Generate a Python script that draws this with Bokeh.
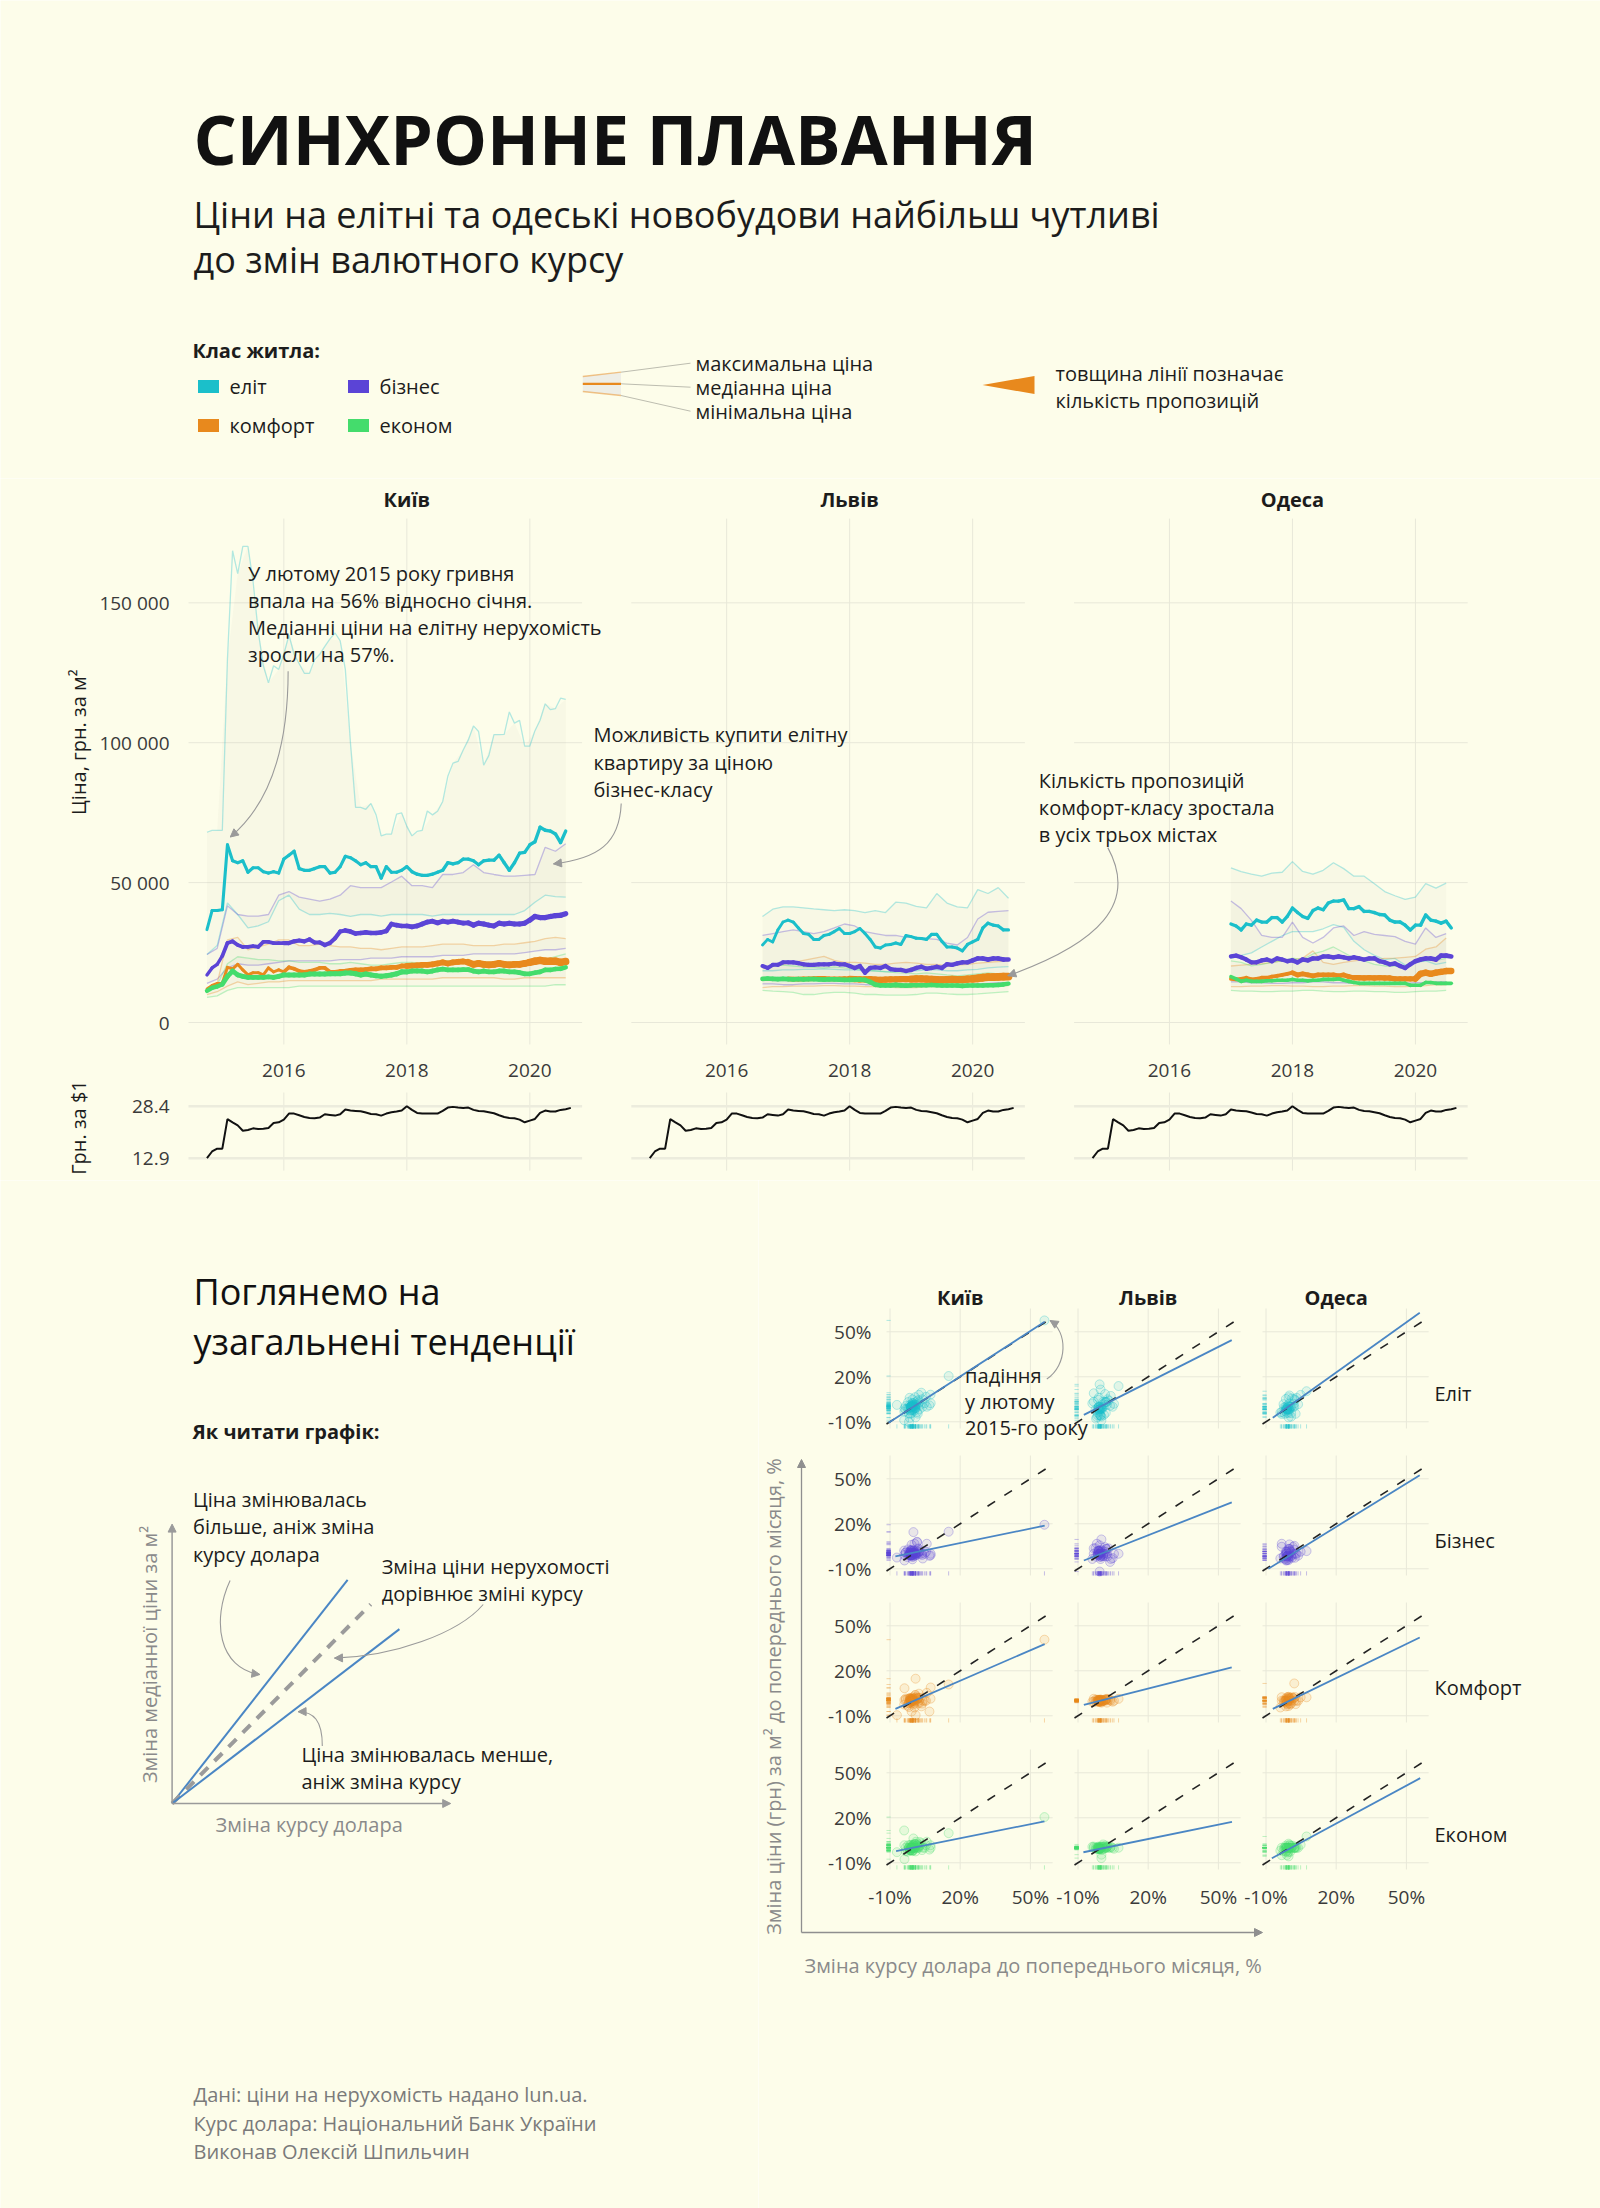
import math
from bokeh.plotting import figure
from bokeh.models import Range1d, LinearAxis, FixedTicker, CustomJSTickFormatter, Arrow, NormalHead
from bokeh.layouts import column, row
from bokeh.embed import file_html
from bokeh.resources import INLINE
from bokeh.core.properties import value

# ======================= DATA =======================
# UAH per USD, monthly, Oct 2014 .. Sep 2020
fx_start = (2014, 10)
fx_rate = [12.95, 14.9, 15.75,
           15.75, 24.57, 23.6, 22.7, 21.1, 21.3, 21.8, 21.6, 21.7, 21.9, 23.4, 23.6,
           24.4, 26.2, 26.2, 25.7, 25.2, 24.9, 24.8, 25.0, 26.0, 25.8, 25.6, 26.0,
           27.4, 27.1, 27.0, 26.9, 26.5, 26.1, 26.0, 25.6, 26.2, 26.6, 26.8, 27.1,
           28.4, 27.3, 26.4, 26.2, 26.2, 26.2, 26.2, 27.0, 28.0, 28.2, 28.0, 27.9,
           28.0, 27.3, 27.0, 26.9, 26.6, 26.3, 25.7, 25.2, 24.9, 24.8, 24.4, 23.6,
           24.1, 24.6, 26.4, 27.1, 26.8, 26.8, 27.3, 27.5, 27.9]

# prices, thousand UAH per m2.  *_med monthly, *_max / *_min every second month
# ---- Kyiv, Oct 2014 .. Aug 2020
kyiv_elite_med = [33.2, 40.0, 40.0, 40.3, 63.5, 57.8, 57.1, 57.8, 53.7, 55.3,
                  55.3, 53.9, 53.4, 53.9, 53.4, 58.4, 59.8, 61.2, 55.0, 54.4,
                  54.4, 55.0, 55.7, 55.7, 53.4, 53.7, 55.7, 59.4, 58.9, 57.8,
                  56.4, 57.1, 55.7, 55.7, 51.6, 55.7, 53.7, 53.7, 54.4, 55.7,
                  53.9, 53.0, 52.6, 52.6, 53.0, 53.7, 54.4, 57.1, 56.7, 57.1,
                  58.4, 58.4, 57.8, 56.4, 57.8, 58.0, 58.0, 59.8, 57.1, 54.4,
                  57.1, 60.5, 60.8, 63.5, 64.6, 69.8, 68.7, 68.4, 67.4, 64.3,
                  68.4]
kyiv_elite_max = [68.0, 68.7, 68.7, 68.7, 130.0, 168.6, 160.4, 170.2, 170.2, 157.6,
                  139.8, 127.5, 121.4, 127.5, 126.2, 131.6, 138.5, 131.6, 128.2, 124.8,
                  124.8, 129.6, 131.6, 134.4, 137.1, 139.2, 136.4, 126.2, 100.0, 76.9,
                  76.9, 76.2, 78.3, 74.2, 66.7, 67.3, 67.3, 74.5, 74.9, 70.1,
                  66.7, 68.3, 68.7, 75.6, 74.2, 75.5, 79.0, 88.0, 92.7, 93.3,
                  97.4, 101.0, 106.0, 104.0, 92.0, 95.4, 102.9, 102.9, 103.0, 111.0,
                  107.0, 108.0, 98.8, 98.8, 104.3, 108.0, 113.9, 111.8, 112.2, 115.9,
                  115.5]
kyiv_elite_min = [24.3, 27.5, 42.7, 38.6, 33.8, 34.5, 36.0, 43.5, 45.5, 40.5,
                  38.6, 38.6, 39.0, 38.6, 37.9, 38.6, 38.6, 38.0, 38.6, 38.6,
                  38.6, 38.6, 38.0, 38.6, 38.6, 38.6, 38.6, 38.6, 38.6, 38.6,
                  38.6, 40.0, 43.0, 45.5, 45.0, 44.8]
kyiv_business_med = [17.0, 19.5, 20.8, 23.8, 28.4, 29.0, 27.7, 27.0, 27.0, 27.3,
                     27.0, 28.8, 28.8, 28.4, 28.4, 28.4, 28.4, 29.0, 29.3, 29.0,
                     29.7, 28.6, 28.6, 27.7, 28.4, 30.1, 32.5, 32.9, 32.5, 31.8,
                     32.0, 32.2, 32.0, 32.0, 32.2, 32.7, 35.2, 34.8, 34.5, 34.5,
                     34.2, 34.5, 35.2, 35.9, 36.2, 35.6, 36.2, 35.9, 36.2, 35.9,
                     35.5, 35.6, 34.8, 35.5, 35.2, 34.8, 34.5, 35.5, 35.2, 35.5,
                     35.2, 35.2, 35.5, 36.6, 37.9, 37.5, 37.5, 37.9, 38.2, 38.3,
                     38.9]
kyiv_business_max = [24.3, 26.5, 41.7, 38.6, 38.0, 38.0, 38.6, 45.5, 46.8, 44.8,
                     44.1, 43.4, 44.1, 45.5, 48.9, 48.2, 48.2, 48.2, 50.2, 52.3,
                     48.9, 48.9, 48.2, 52.9, 52.9, 53.6, 56.4, 53.6, 52.9, 52.3,
                     52.3, 52.6, 52.9, 62.6, 61.2, 63.9]
kyiv_business_min = [14.0, 15.5, 19.5, 21.0, 20.5, 20.5, 21.0, 21.5, 22.0, 22.0,
                     22.0, 22.0, 22.0, 22.5, 22.5, 22.5, 23.0, 23.0, 23.0, 23.5,
                     23.5, 23.5, 23.5, 24.0, 24.0, 24.0, 24.5, 24.5, 24.5, 24.5,
                     24.5, 25.0, 25.5, 26.0, 26.0, 26.5]
kyiv_comfort_med = [12.0, 13.3, 14.0, 14.0, 19.7, 19.2, 20.8, 18.8, 17.0, 17.8,
                    17.8, 17.0, 19.5, 18.1, 18.8, 18.1, 19.7, 19.2, 18.4, 18.1,
                    18.4, 18.8, 19.5, 19.5, 18.1, 18.1, 18.4, 18.4, 18.6, 18.8,
                    18.8, 18.9, 19.2, 19.2, 19.5, 19.5, 19.7, 19.7, 20.2, 20.2,
                    20.3, 20.4, 20.6, 20.6, 20.8, 21.1, 21.5, 21.1, 21.5, 21.7,
                    21.8, 21.5, 20.8, 21.1, 20.8, 20.6, 20.8, 21.1, 20.8, 20.6,
                    20.8, 20.8, 21.1, 21.5, 21.9, 22.2, 21.9, 21.9, 21.9, 21.5,
                    21.8]
kyiv_comfort_max = [12.5, 14.0, 29.5, 30.4, 26.0, 27.0, 28.0, 29.5, 29.5, 27.5,
                    27.5, 28.0, 27.5, 27.0, 27.0, 26.5, 26.5, 26.0, 26.5, 27.0,
                    27.0, 27.0, 27.5, 28.0, 28.0, 28.0, 27.5, 27.5, 27.5, 28.0,
                    28.0, 28.5, 29.0, 30.0, 30.4, 30.0]
kyiv_comfort_min = [10.0, 11.0, 13.0, 14.5, 13.5, 14.0, 14.5, 14.5, 15.0, 15.0,
                    15.0, 15.0, 15.0, 15.0, 15.0, 15.0, 15.0, 15.5, 15.5, 15.5,
                    15.5, 15.5, 15.5, 16.0, 16.0, 16.0, 16.0, 16.0, 16.0, 15.5,
                    15.5, 16.0, 16.0, 16.0, 16.0, 16.0]
kyiv_econom_med = [11.3, 12.4, 12.9, 13.7, 16.5, 18.4, 17.0, 16.5, 16.1, 16.1,
                   16.1, 16.1, 16.3, 16.1, 16.5, 17.0, 17.0, 17.0, 17.0, 17.0,
                   17.3, 17.3, 17.3, 17.3, 17.4, 17.4, 17.4, 17.7, 17.7, 17.4,
                   17.0, 17.3, 17.0, 16.7, 16.5, 16.7, 17.0, 17.4, 18.1, 18.1,
                   18.4, 18.4, 18.4, 18.1, 18.4, 18.8, 19.1, 18.8, 18.8, 18.8,
                   18.9, 18.9, 18.4, 18.1, 18.4, 18.1, 18.1, 18.4, 18.4, 18.1,
                   18.1, 17.8, 17.4, 17.4, 17.8, 18.1, 18.8, 18.8, 19.1, 19.2,
                   19.7]
kyiv_econom_max = [12.0, 13.5, 21.0, 23.5, 23.0, 22.5, 22.5, 22.0, 22.0, 21.5,
                   21.5, 21.5, 21.0, 21.0, 21.5, 21.0, 20.5, 20.5, 21.0, 21.5,
                   21.5, 21.0, 21.5, 22.0, 22.0, 22.0, 21.5, 21.5, 21.5, 21.5,
                   21.0, 21.5, 22.0, 22.5, 23.5, 24.5]
kyiv_econom_min = [9.0, 9.5, 11.5, 12.5, 12.5, 12.5, 12.5, 12.5, 12.5, 13.0,
                   13.0, 13.0, 13.0, 13.0, 13.0, 13.0, 13.0, 13.0, 13.0, 13.0,
                   13.0, 13.0, 13.0, 13.0, 13.0, 13.0, 13.0, 13.0, 13.0, 13.0,
                   13.0, 13.0, 13.0, 13.0, 13.5, 13.5]

# ---- Lviv, Aug 2016 .. Aug 2020
lviv_elite_med = [27.7, 29.7, 28.8, 33.1, 35.9, 36.6, 35.9, 33.8, 31.8, 31.5,
                  29.7, 29.7, 31.1, 31.5, 32.5, 33.6, 31.8, 31.8, 32.5, 33.6,
                  31.8, 29.7, 27.0, 26.6, 27.7, 27.9, 28.4, 27.9, 31.1, 30.7,
                  30.1, 30.0, 29.7, 31.5, 31.5, 29.0, 27.0, 27.0, 26.6, 25.6,
                  27.9, 28.8, 29.7, 33.8, 35.5, 34.8, 34.5, 33.1, 33.1]
lviv_elite_max = [37.9, 40.5, 41.3, 41.3, 41.0, 40.6, 40.3, 40.0, 40.3, 40.0,
                  39.3, 40.0, 39.3, 43.0, 42.7, 41.5, 41.0, 46.1, 42.7, 41.3,
                  41.0, 47.5, 46.1, 48.2, 44.4]
lviv_elite_min = [18.5, 18.5, 18.8, 18.8, 19.0, 19.0, 19.2, 19.0, 18.8, 18.8,
                  18.5, 18.5, 18.2, 18.2, 18.5, 18.5, 18.8, 18.8, 18.5, 18.5,
                  18.8, 19.0, 19.5, 19.8, 20.0]
lviv_business_med = [20.2, 19.5, 20.6, 20.6, 21.5, 21.5, 21.5, 21.2, 20.8, 20.6,
                     20.6, 20.8, 20.8, 20.8, 21.1, 20.8, 20.8, 20.2, 19.5, 20.2,
                     17.8, 19.5, 19.7, 19.5, 20.2, 19.1, 18.8, 18.8, 18.4, 18.8,
                     19.5, 19.9, 19.2, 19.5, 19.9, 19.5, 20.8, 20.6, 21.1, 21.5,
                     21.5, 22.2, 22.9, 22.9, 22.5, 22.9, 22.9, 22.5, 22.5]
lviv_business_max = [31.1, 31.8, 32.5, 33.1, 32.5, 31.8, 32.5, 33.8, 35.2, 34.5,
                     32.5, 31.8, 31.1, 31.1, 30.4, 30.4, 30.0, 29.7, 28.4, 27.7,
                     30.4, 37.0, 39.4, 39.7, 40.0]
lviv_business_min = [13.8, 13.8, 13.5, 13.5, 13.8, 13.8, 14.0, 14.0, 13.8, 13.8,
                     13.5, 13.5, 13.5, 13.2, 13.2, 13.5, 13.5, 13.5, 13.2, 13.2,
                     13.5, 13.8, 14.0, 14.2, 14.2]
lviv_comfort_med = [15.4, 15.4, 15.5, 15.5, 15.6, 15.6, 15.5, 15.5, 15.6, 15.6,
                    15.7, 15.8, 15.8, 15.6, 15.6, 15.6, 15.7, 15.6, 15.5, 15.4,
                    15.4, 15.5, 15.3, 15.2, 15.3, 15.4, 15.4, 15.5, 15.5, 15.5,
                    15.6, 15.6, 15.5, 15.4, 15.3, 15.2, 15.3, 15.4, 15.3, 15.3,
                    15.5, 15.6, 15.8, 16.0, 16.2, 16.2, 16.3, 16.4, 16.4]
lviv_comfort_max = [19.5, 20.2, 20.8, 21.5, 22.2, 22.9, 23.6, 22.2, 21.5, 21.5,
                    21.2, 20.8, 20.8, 21.2, 21.5, 21.2, 20.8, 20.8, 20.2, 20.5,
                    20.8, 21.2, 21.5, 21.8, 22.0]
lviv_comfort_min = [12.5, 12.8, 12.8, 13.0, 13.0, 13.0, 13.2, 13.2, 13.0, 13.0,
                    12.8, 12.8, 12.8, 12.5, 12.5, 12.5, 12.8, 12.8, 12.8, 13.0,
                    13.0, 13.0, 13.2, 13.2, 13.2]
lviv_econom_med = [15.6, 15.7, 15.6, 15.5, 15.6, 15.5, 15.4, 15.5, 15.4, 15.5,
                   15.5, 15.4, 15.3, 15.4, 15.4, 15.3, 15.2, 15.2, 15.3, 15.3,
                   15.2, 14.5, 13.5, 13.3, 13.3, 13.3, 13.4, 13.3, 13.2, 13.3,
                   13.3, 13.3, 13.3, 13.4, 13.3, 13.2, 13.2, 13.2, 13.2, 13.1,
                   13.2, 13.2, 13.2, 13.2, 13.3, 13.3, 13.4, 13.6, 13.9]
lviv_econom_max = [19.7, 20.2, 20.5, 20.2, 19.9, 19.7, 19.5, 19.9, 19.5, 19.2,
                   18.8, 18.4, 18.1, 17.8, 17.7, 17.4, 17.7, 17.4, 17.0, 16.7,
                   17.0, 17.4, 17.7, 17.4, 17.0]
lviv_econom_min = [11.5, 11.2, 11.0, 10.8, 10.0, 10.0, 10.5, 10.8, 10.8, 10.5,
                   10.0, 10.0, 9.8, 9.8, 9.8, 10.0, 10.5, 10.5, 10.2, 10.0,
                   10.0, 10.2, 10.5, 10.8, 11.0]

# ---- Odesa, Jan 2017 .. Aug 2020
odesa_elite_med = [35.2, 34.5, 33.1, 35.2, 34.8, 36.6, 35.9, 35.9, 37.5, 37.5,
                   35.9, 37.9, 40.9, 39.3, 37.9, 37.2, 40.0, 40.9, 40.3, 42.7,
                   43.4, 43.4, 43.8, 40.7, 40.7, 41.4, 39.7, 39.7, 39.3, 38.6,
                   38.4, 36.6, 35.9, 35.9, 34.8, 33.1, 34.8, 34.8, 38.4, 36.6,
                   36.2, 35.5, 36.2, 33.8]
odesa_elite_max = [55.3, 53.9, 53.0, 52.3, 53.4, 53.7, 57.5, 54.0, 53.0, 54.4,
                   57.1, 55.0, 52.3, 52.3, 49.6, 46.8, 45.3, 44.0, 44.8, 49.6,
                   48.0, 49.8]
odesa_elite_min = [22.9, 24.0, 24.9, 27.0, 29.0, 31.0, 32.5, 32.5, 32.5, 33.5,
                   35.0, 34.0, 29.0, 26.0, 24.0, 22.5, 22.9, 20.5, 21.5, 22.0,
                   20.8, 21.5]
odesa_business_med = [23.6, 23.9, 23.3, 22.5, 21.5, 21.5, 22.2, 22.5, 21.9, 22.9,
                      22.5, 21.9, 22.2, 21.5, 22.5, 22.2, 22.9, 22.9, 23.6, 23.6,
                      23.3, 23.6, 23.3, 22.9, 23.3, 22.9, 22.5, 22.9, 22.9, 21.9,
                      21.5, 20.8, 21.1, 20.2, 19.5, 20.8, 21.9, 22.5, 22.9, 22.9,
                      22.5, 23.9, 23.9, 23.6]
odesa_business_max = [43.4, 40.7, 36.5, 31.1, 30.4, 30.4, 35.9, 30.4, 28.4, 30.4,
                      33.8, 34.5, 31.1, 32.5, 31.5, 31.1, 30.7, 29.0, 28.0, 33.8,
                      30.4, 31.8]
odesa_business_min = [14.5, 14.5, 14.2, 14.2, 14.0, 14.0, 14.2, 14.2, 14.5, 14.5,
                      14.2, 14.2, 14.0, 14.0, 13.8, 13.8, 14.0, 14.0, 14.2, 14.2,
                      14.5, 14.5]
odesa_comfort_med = [15.6, 15.4, 15.6, 16.0, 15.4, 15.6, 16.0, 16.0, 16.4, 16.7,
                     17.0, 17.4, 17.8, 17.0, 17.4, 17.0, 16.7, 17.0, 17.0, 17.0,
                     17.0, 16.7, 17.0, 16.4, 16.0, 16.0, 15.9, 16.0, 15.9, 16.0,
                     15.9, 15.9, 15.6, 15.6, 15.6, 15.6, 15.6, 17.4, 17.8, 17.4,
                     17.8, 18.1, 18.4, 18.4]
odesa_comfort_max = [20.2, 20.5, 20.8, 21.0, 21.5, 22.0, 22.5, 23.0, 25.6, 21.5,
                     20.8, 21.5, 22.0, 22.5, 22.5, 22.9, 23.0, 23.3, 23.6, 26.2,
                     27.0, 30.2]
odesa_comfort_min = [12.8, 12.8, 13.0, 13.0, 13.2, 13.2, 13.0, 13.0, 12.8, 12.8,
                     13.0, 13.0, 13.2, 13.2, 13.0, 13.0, 12.8, 12.8, 13.0, 13.2,
                     13.5, 13.5]
odesa_econom_med = [16.4, 15.6, 14.7, 15.1, 14.7, 14.7, 14.7, 14.9, 14.9, 15.1,
                    15.1, 15.1, 15.4, 15.1, 15.1, 14.9, 15.1, 15.1, 15.4, 15.4,
                    15.4, 15.6, 15.1, 14.7, 14.3, 14.0, 14.0, 14.0, 14.0, 14.0,
                    14.0, 14.0, 14.0, 14.0, 14.0, 13.3, 13.3, 13.3, 14.3, 14.3,
                    14.0, 14.0, 14.0, 14.0]
odesa_econom_max = [22.0, 21.5, 20.2, 20.8, 21.5, 22.0, 23.0, 22.5, 24.5, 25.5,
                    27.0, 25.0, 23.0, 22.0, 20.8, 20.2, 20.2, 20.2, 21.5, 22.2,
                    22.2, 22.9]
odesa_econom_min = [11.5, 11.2, 11.2, 11.0, 11.0, 11.2, 11.2, 11.5, 11.5, 11.2,
                    11.0, 11.0, 11.2, 11.2, 11.0, 11.0, 10.8, 10.8, 11.0, 11.2,
                    11.2, 11.5]

# number of offers per year (drives median line thickness)
kyiv_offers = [[1200, 1300, 1400, 1400, 1500, 1500, 1600],
               [1500, 2000, 2400, 2800, 3000, 3200, 3400],
               [800, 1200, 2000, 3000, 4000, 5000, 5600],
               [2500, 3000, 3200, 3300, 3000, 3000, 2800]]
lviv_offers = [[1000, 1200, 1200, 1300, 1400],
               [2200, 2400, 2500, 2600, 2800],
               [1500, 3000, 4500, 5500, 6000],
               [2800, 3000, 3000, 2800, 2600]]
odesa_offers = [[1500, 1500, 1600, 1600],
                [2500, 2600, 2600, 2800],
                [2000, 3000, 3500, 4500],
                [1800, 1800, 1800, 1800]]

# regression lines of the small multiples (rows: class, cols: city), in %
reg_x0 = [[-10.6, -7.5, -7.1], [-7.7, -7.5, -9.0], [-7.7, -7.5, -7.1], [-7.4, -7.7, -7.5]]
reg_y0 = [[-10.7, -5.4, -7.3], [-1.8, -4.5, -10.0], [-5.4, -2.7, -5.4], [-2.3, -3.0, -7.0]]
reg_x1 = [[56.1, 55.7, 55.7], [56.1, 55.7, 55.7], [56.1, 55.7, 55.7], [56.0, 55.8, 55.9]]
reg_y1 = [[56.6, 44.4, 62.7], [18.7, 34.2, 52.4], [37.8, 22.3, 42.2], [17.6, 17.2, 46.4]]

city_names = ["Київ", "Львів", "Одеса"]
class_names = ["Еліт", "Бізнес", "Комфорт", "Економ"]
legend_names = ["еліт", "бізнес", "комфорт", "економ"]
price_ticks = [0, 50, 100, 150]
year_ticks = [2016, 2018, 2020]
fx_ticks = [12.9, 28.4]
pct_ticks = [-10, 20, 50]
# conceptual "how to read" chart: slope of each line and its x extent
schem_slope = [1.27, 1.0, 0.765]
schem_xend = [0.63, 0.713, 0.816]

# ======================= STYLE / LAYOUT =======================
BG = "#fdfdea"
INK = "#1c1c1c"
GRID = "#e8e8d9"
ARR = "#9a9a9a"
BLUE = "#4a86c4"
RIB = "#a0a090"
FONT = "Open Sans"
COLORS = ["#1bbfca", "#5b44d6", "#e8891d", "#44dc6c"]
TS = 20          # default text size
M = 8            # outer offset
TOTAL_W = 1600

cities = [
    dict(start=(2014, 10), med=[kyiv_elite_med, kyiv_business_med, kyiv_comfort_med, kyiv_econom_med],
         mx=[kyiv_elite_max, kyiv_business_max, kyiv_comfort_max, kyiv_econom_max],
         mn=[kyiv_elite_min, kyiv_business_min, kyiv_comfort_min, kyiv_econom_min], offers=kyiv_offers),
    dict(start=(2016, 8), med=[lviv_elite_med, lviv_business_med, lviv_comfort_med, lviv_econom_med],
         mx=[lviv_elite_max, lviv_business_max, lviv_comfort_max, lviv_econom_max],
         mn=[lviv_elite_min, lviv_business_min, lviv_comfort_min, lviv_econom_min], offers=lviv_offers),
    dict(start=(2017, 1), med=[odesa_elite_med, odesa_business_med, odesa_comfort_med, odesa_econom_med],
         mx=[odesa_elite_max, odesa_business_max, odesa_comfort_max, odesa_econom_max],
         mn=[odesa_elite_min, odesa_business_min, odesa_comfort_min, odesa_econom_min], offers=odesa_offers),
]


def dec_dates(start, n, step=1):
    y, m = start
    return [y + (m - 1 + k) / 12.0 for k in range(0, n, step)]


def make_fig(w, h, xr, yr):
    p = figure(width=w, height=h, x_range=Range1d(*xr), y_range=Range1d(*yr),
               x_axis_type=None, y_axis_type=None, toolbar_location=None,
               output_backend="svg", min_border=0)
    p.background_fill_color = BG
    p.border_fill_color = BG
    p.outline_line_color = None
    return p


def add_text(p, x, y, s, size=TS, color=INK, align="left", baseline="middle", style="normal", angle=0.0, **kw):
    p.text(x=[x], y=[y], text=[s], text_font=value(FONT), text_font_size=f"{size}px",
           text_color=color, text_align=align, text_baseline=baseline,
           text_font_style=style, angle=angle, **kw)


def curved_arrow(p, x0, y0, cx0, cy0, cx1, cy1, x1, y1, color=ARR, **kw):
    p.bezier(x0=[x0], y0=[y0], x1=[x1], y1=[y1], cx0=[cx0], cy0=[cy0], cx1=[cx1], cy1=[cy1],
             line_color=color, line_width=1.1, **kw)
    t = 0.08
    sx = x1 - t * (x1 - cx1)
    sy = y1 - t * (y1 - cy1)
    p.add_layout(Arrow(end=NormalHead(size=8, fill_color=color, line_color=color),
                       x_start=sx, y_start=sy, x_end=x1, y_end=y1, line_alpha=0, **kw))


def style_axis(ax, size="19px", color="#3a3a3a", standoff=10):
    ax.axis_line_color = None
    ax.major_tick_line_color = None
    ax.minor_tick_line_color = None
    ax.major_tick_in = 0
    ax.major_tick_out = 0
    ax.minor_tick_in = 0
    ax.minor_tick_out = 0
    ax.major_label_text_font = FONT
    ax.major_label_text_font_size = size
    ax.major_label_text_color = color
    ax.major_label_standoff = standoff


# ======================= HEADER =======================
HEAD_H = 470
ph = make_fig(TOTAL_W, HEAD_H + M, (-M, TOTAL_W - M), (HEAD_H, -M))
add_text(ph, 185, 130, "СИНХРОННЕ ПЛАВАННЯ", size=68, style="bold", color="#111111")
add_text(ph, 185, 206, "Ціни на елітні та одеські новобудови найбільш чутливі", size=36)
add_text(ph, 185, 251, "до змін валютного курсу", size=36)
add_text(ph, 184, 342, "Клас житла:", style="bold")
sw_x = [200, 350, 200, 350]
sw_y = [378, 378, 417, 417]
ph.rect(x=sw_x, y=sw_y, width=21, height=13, fill_color=COLORS, line_color=None)
for k in range(4):
    add_text(ph, sw_x[k] + 21, sw_y[k], legend_names[k])
# ribbon legend icon
ph.varea(x=[574.3, 612.5], y1=[368, 363.7], y2=[383, 387], fill_color="#ecece6", fill_alpha=0.9)
ph.line([574.3, 612.5], [368, 363.7], line_color=COLORS[2], line_alpha=0.5, line_width=1.3)
ph.line([574.3, 612.5], [383, 387], line_color=COLORS[2], line_alpha=0.5, line_width=1.3)
ph.line([574.3, 612.5], [375.3, 375.3], line_color=COLORS[2], line_width=2.2)
ph.segment(x0=[612.5, 612.5, 612.5], y0=[363.7, 375.3, 387], x1=[682, 682, 682], y1=[354.7, 378.7, 402.7],
           line_color="#bdbdb0", line_width=1)
add_text(ph, 687, 354.7, "максимальна ціна")
add_text(ph, 687, 378.7, "медіанна ціна")
add_text(ph, 687, 402.7, "мінімальна ціна")
ph.patch([974, 1026, 1026], [376.5, 367.5, 385.5], fill_color=COLORS[2], line_color=None)
add_text(ph, 1047, 365.3, "товщина лінії позначає")
add_text(ph, 1047, 392, "кількість пропозицій")

# ======================= MAIN PANELS + EXCHANGE RATE =======================
PX_YR = 61.5
X_LO, PANEL_W, D = 2014.45, 6.4, 7.2
main_x0 = X_LO - (180 + M) / PX_YR
main_x1 = main_x0 + TOTAL_W / PX_YR
PX_K = 2.798
ZERO_PAGE = 1014.0
MAIN_TOP, MAIN_H = 470, 702
main_y1 = (ZERO_PAGE - MAIN_TOP) / PX_K
main_y0 = main_y1 - MAIN_H / PX_K
PANEL_YB, PANEL_YT = -7.86, 180.1
# exchange-rate panels share the figure through their own y range
PX_UAH = 3.355
FX284_PAGE = 1097.7
fx_top = 28.4 + (FX284_PAGE - MAIN_TOP) / PX_UAH
fx_bot = 28.4 - (MAIN_TOP + MAIN_H - FX284_PAGE) / PX_UAH
FX_PB, FX_PT = 9.2, 32.48


def mxp(px):
    return main_x0 + (px + M) / PX_YR


pm = make_fig(TOTAL_W, MAIN_H, (main_x0, main_x1), (main_y0, main_y1))
pm.extra_y_ranges = {"fx": Range1d(fx_bot, fx_top)}

gx0, gy0, gx1, gy1 = [], [], [], []
for i in range(3):
    off = i * D
    for v in price_ticks:
        gx0.append(X_LO + off); gx1.append(X_LO + off + PANEL_W); gy0.append(v); gy1.append(v)
    for t in year_ticks:
        gx0.append(t + off); gx1.append(t + off); gy0.append(PANEL_YB); gy1.append(PANEL_YT)
pm.segment(x0=gx0, y0=gy0, x1=gx1, y1=gy1, line_color=GRID, line_width=1)

for i, city in enumerate(cities):
    off = i * D
    n = len(city["med"][0])
    dm = [d + off for d in dec_dates(city["start"], n)]
    db = [d + off for d in dec_dates(city["start"], n, 2)]
    for k in range(4):
        mx = city["mx"][k]
        mn = city["mn"][k]
        mxb = mx[::2] if len(mx) == n else mx
        pm.varea(x=db, y1=mn, y2=mxb, fill_color=RIB, fill_alpha=0.05)
    for k in range(4):
        for s in (city["mx"][k], city["mn"][k]):
            xs = dm if len(s) == n else db
            pm.line(xs, s, line_color=COLORS[k], line_alpha=0.33, line_width=1.3)
    for k in range(4):
        med = city["med"][k]
        widths = []
        for m in range(n - 1):
            yr = city["start"][0] + (city["start"][1] - 1 + m) // 12
            widths.append(1.8 + city["offers"][k][yr - city["start"][0]] / 1000.0)
        pm.segment(x0=dm[:-1], y0=med[:-1], x1=dm[1:], y1=med[1:], line_width=widths,
                   line_color=COLORS[k], line_cap="round")

for i in range(3):
    add_text(pm, 2018 + i * D, 186.9, city_names[i], style="bold", align="center")
add_text(pm, mxp(69.5), 100.2, "Ціна, грн. за м²", align="center", angle=math.pi / 2)

yax = LinearAxis(fixed_location=X_LO, ticker=FixedTicker(ticks=price_ticks),
                 formatter=CustomJSTickFormatter(code="return tick == 0 ? '0' : tick + ' 000';"))
style_axis(yax, standoff=19)
pm.add_layout(yax, "left")
xax = LinearAxis(fixed_location=PANEL_YB,
                 ticker=FixedTicker(ticks=[t + i * D for i in range(3) for t in year_ticks]),
                 formatter=CustomJSTickFormatter(code="let v = tick; while (v > 2021.5) { v -= 7.2; } return Math.round(v).toString();"))
style_axis(xax, standoff=20)
pm.add_layout(xax, "below")

# exchange rate small panels
fgx0, fgy0, fgx1, fgy1 = [], [], [], []
for i in range(3):
    off = i * D
    for t in year_ticks:
        fgx0.append(t + off); fgx1.append(t + off); fgy0.append(FX_PB); fgy1.append(FX_PT)
pm.segment(x0=fgx0, y0=fgy0, x1=fgx1, y1=fgy1, line_color=GRID, line_width=1, y_range_name="fx")
hx0, hy, hx1 = [], [], []
for i in range(3):
    for v in fx_ticks:
        hx0.append(X_LO + i * D); hx1.append(X_LO + i * D + PANEL_W); hy.append(v)
pm.segment(x0=hx0, y0=hy, x1=hx1, y1=hy, line_color="#ececdd", line_width=2.5, y_range_name="fx")
fxd = dec_dates(fx_start, len(fx_rate))
for i in range(3):
    pm.line([d + i * D for d in fxd], fx_rate, line_color="#111111", line_width=2, y_range_name="fx")
fyax = LinearAxis(fixed_location=X_LO, y_range_name="fx", ticker=FixedTicker(ticks=fx_ticks),
                  formatter=CustomJSTickFormatter(code="return tick.toFixed(1);"))
style_axis(fyax, standoff=19)
pm.add_layout(fyax, "left")
add_text(pm, mxp(69.5), 28.4 - (1119 - FX284_PAGE) / PX_UAH, "Грн. за $1",
         align="center", angle=math.pi / 2, y_range_name="fx")

# annotations
a1 = ["У лютому 2015 року гривня", "впала на 56% відносно січня.",
      "Медіанні ціни на елітну нерухомість", "зросли на 57%."]
for j, s in enumerate(a1):
    add_text(pm, 2015.417, 160.3 - j * 9.6, s)
curved_arrow(pm, 2016.07, 125.5, 2016.07, 90.8, 2015.59, 74.7, 2015.13, 66.3)
a2 = ["Можливість купити елітну", "квартиру за ціною", "бізнес-класу"]
for j, s in enumerate(a2):
    add_text(pm, 2021.035, 102.9 - j * 9.9, s)
curved_arrow(pm, 2021.486, 78.3, 2021.458, 64.0, 2021.117, 58.6, 2020.385, 56.7)
a3 = ["Кількість пропозицій", "комфорт-класу зростала", "в усіх трьох містах"]
for j, s in enumerate(a3):
    add_text(pm, 2028.276, 86.5 - j * 9.7, s)
curved_arrow(pm, 2029.398, 62.5, 2029.897, 42.5, 2029.247, 28.2, 2027.772, 16.7)

# ======================= LOWER LEFT (text + how-to-read) =======================
LL_W, LOW_TOP, LOW_H = 750, 1172, 1028
pl = make_fig(LL_W + M, LOW_H, (-M, LL_W), (LOW_TOP + LOW_H, LOW_TOP))
add_text(pl, 185, 1283, "Поглянемо на", size=36, color="#111111")
add_text(pl, 185, 1333, "узагальнені тенденції", size=36, color="#111111")
add_text(pl, 184, 1422.6, "Як читати графік:", style="bold")
# schematic in its own unit ranges (0..1 from the origin to the arrow tips)
S_OX, S_OY, S_LX, S_LY = 163.6, 1795.0, 278.6, 279.4
pl.extra_x_ranges = {"s": Range1d((-M - S_OX) / S_LX, (LL_W - S_OX) / S_LX)}
pl.extra_y_ranges = {"s": Range1d(-(LOW_TOP + LOW_H - S_OY) / S_LY, (S_OY - LOW_TOP) / S_LY)}
sk = dict(x_range_name="s", y_range_name="s")
for k in range(3):
    xe = schem_xend[k]
    if k == 1:
        pl.line([0, xe], [0, schem_slope[k] * xe], line_color="#9b9b9b", line_width=4,
                line_dash="11 9", **sk)
    else:
        pl.line([0, xe], [0, schem_slope[k] * xe], line_color=BLUE, line_width=2, **sk)
pl.add_layout(Arrow(end=NormalHead(size=8, fill_color="#9a9a9a", line_color="#9a9a9a"),
                    x_start=0, y_start=0, x_end=1, y_end=0, line_color="#9a9a9a", line_width=1.5, **sk))
pl.add_layout(Arrow(end=NormalHead(size=8, fill_color="#9a9a9a", line_color="#9a9a9a"),
                    x_start=0, y_start=0, x_end=0, y_end=1, line_color="#9a9a9a", line_width=1.5, **sk))
add_text(pl, 300.7, 1816, "Зміна курсу долара", color="#8a8a8a", align="center")
add_text(pl, 141, 1646, "Зміна медіанної ціни за м²", color="#8a8a8a", align="center", angle=math.pi / 2)
for j, s in enumerate(["Ціна змінювалась", "більше, аніж зміна", "курсу долара"]):
    add_text(pl, 184.5, 1490.8 + j * 27.4, s)
for j, s in enumerate(["Зміна ціни нерухомості", "дорівнює зміні курсу"]):
    add_text(pl, 373.2, 1557.7 + j * 26.8, s)
for j, s in enumerate(["Ціна змінювалась менше,", "аніж зміна курсу"]):
    add_text(pl, 292.9, 1746.4 + j * 26.8, s)
curved_arrow(pl, 221.6, 1572, 203, 1612, 210, 1660, 251.4, 1666)
curved_arrow(pl, 474.7, 1596, 450, 1625, 385, 1648, 326, 1649.6)
curved_arrow(pl, 313.8, 1737.6, 314, 1712, 305, 1703, 289.6, 1703.2)
for j, s in enumerate(["Дані: ціни на нерухомість надано lun.ua.",
                       "Курс долара: Національний Банк України",
                       "Виконав Олексій Шпильчин"]):
    add_text(pl, 185, 2086.4 + j * 28.2, s, color="#7a7a7a")

# ======================= SMALL MULTIPLES =======================
SC_W = TOTAL_W - (LL_W + M)
SC_X0, SC_X1, SC_Y0, SC_Y1 = -11.5, 59.5, -14.5, 65.5
PXX, PXY = 2.34, 1.5
XOFF, YOFF = 188 / PXX, 147 / PXY
sx0 = SC_X0 - (878 - LL_W) / PXX
sx1 = sx0 + SC_W / PXX
sy1 = SC_Y1 + (1300 - LOW_TOP) / PXY
sy0 = sy1 - LOW_H / PXY


def sxp(px):
    return sx0 + (px - LL_W) / PXX


def syp(py):
    return sy1 - (py - LOW_TOP) / PXY


ps = make_fig(SC_W, LOW_H, (sx0, sx1), (sy0, sy1))
g0x, g0y, g1x, g1y = [], [], [], []
for c in range(3):
    for r in range(4):
        ox, oy = c * XOFF, -r * YOFF
        for v in pct_ticks:
            g0x.append(SC_X0 + ox); g1x.append(SC_X1 + ox); g0y.append(v + oy); g1y.append(v + oy)
            g0x.append(v + ox); g1x.append(v + ox); g0y.append(SC_Y0 + oy); g1y.append(SC_Y1 + oy)
ps.segment(x0=g0x, y0=g0y, x1=g1x, y1=g1y, line_color=GRID, line_width=1)

for c, city in enumerate(cities):
    s_idx = (city["start"][0] - 2014) * 12 + city["start"][1] - 10
    n = len(city["med"][0])
    xs = [(fx_rate[s_idx + m] / fx_rate[s_idx + m - 1] - 1) * 100 for m in range(1, n)]
    for r in range(4):
        ox, oy = c * XOFF, -r * YOFF
        med = city["med"][r]
        ys = [(med[m] / med[m - 1] - 1) * 100 for m in range(1, n)]
        col = COLORS[r]
        xp = [x + ox for x in xs]
        yp = [y + oy for y in ys]
        k = len(xp)
        ps.segment(x0=xp, y0=[SC_Y0 + oy] * k, x1=xp, y1=[SC_Y0 + oy + 2.8] * k,
                   line_color=col, line_alpha=0.35, line_width=1)
        ps.segment(x0=[SC_X0 + ox] * k, y0=yp, x1=[SC_X0 + ox + 1.8] * k, y1=yp,
                   line_color=col, line_alpha=0.35, line_width=1)
        ps.scatter(xp, yp, size=9, marker="circle", fill_color=col, fill_alpha=0.12,
                   line_color=col, line_alpha=0.3, line_width=1)
        ps.segment(x0=[SC_X0 + ox], y0=[SC_X0 + oy], x1=[SC_X1 + ox], y1=[SC_X1 + oy],
                   line_color="#222222", line_width=1.6, line_dash="9 11")
        ps.line([reg_x0[r][c] + ox, reg_x1[r][c] + ox], [reg_y0[r][c] + oy, reg_y1[r][c] + oy],
                line_color=BLUE, line_width=1.8)

for c in range(3):
    add_text(ps, 20 + c * XOFF, syp(1289), city_names[c], style="bold", align="center")
for r in range(4):
    add_text(ps, sxp(1426), 9 - r * YOFF, class_names[r])

for j, s in enumerate(["падіння", "у лютому", "2015-го року"]):
    add_text(ps, 22.1, 20.7 - j * 17.35, s)
curved_arrow(ps, 57.0, 18.5, 66.0, 28.0, 66.0, 50.0, 58.4, 57.5)

ps.add_layout(Arrow(end=NormalHead(size=8, fill_color="#8f8f8f", line_color="#8f8f8f"),
                    x_start=sxp(793), y_start=syp(1924), x_end=sxp(793), y_end=syp(1451),
                    line_color="#8f8f8f", line_width=1.3))
ps.add_layout(Arrow(end=NormalHead(size=8, fill_color="#8f8f8f", line_color="#8f8f8f"),
                    x_start=sxp(793), y_start=syp(1924), x_end=sxp(1254), y_end=syp(1924),
                    line_color="#8f8f8f", line_width=1.3))
add_text(ps, sxp(765), syp(1688), "Зміна ціни (грн) за м² до попереднього місяця, %",
         color="#8a8a8a", align="center", angle=math.pi / 2)
add_text(ps, sxp(796), syp(1957), "Зміна курсу долара до попереднього місяця, %", color="#8a8a8a")

syax = LinearAxis(fixed_location=SC_X0,
                  ticker=FixedTicker(ticks=[v - r * YOFF for r in range(4) for v in pct_ticks]),
                  formatter=CustomJSTickFormatter(
                      code="let v = tick; while (v < -40) { v += %f; } return Math.round(v) + '%%';" % YOFF))
style_axis(syax, standoff=15)
ps.add_layout(syax, "left")
sxax = LinearAxis(fixed_location=SC_Y0 - 3 * YOFF,
                  ticker=FixedTicker(ticks=[v + c * XOFF for c in range(3) for v in pct_ticks]),
                  formatter=CustomJSTickFormatter(
                      code="let v = tick; while (v > 55) { v -= %f; } return Math.round(v) + '%%';" % XOFF))
style_axis(sxax, standoff=14)
ps.add_layout(sxax, "below")

layout = column(ph, pm, row(pl, ps))
open("out.html", "w").write(file_html(layout, INLINE))
